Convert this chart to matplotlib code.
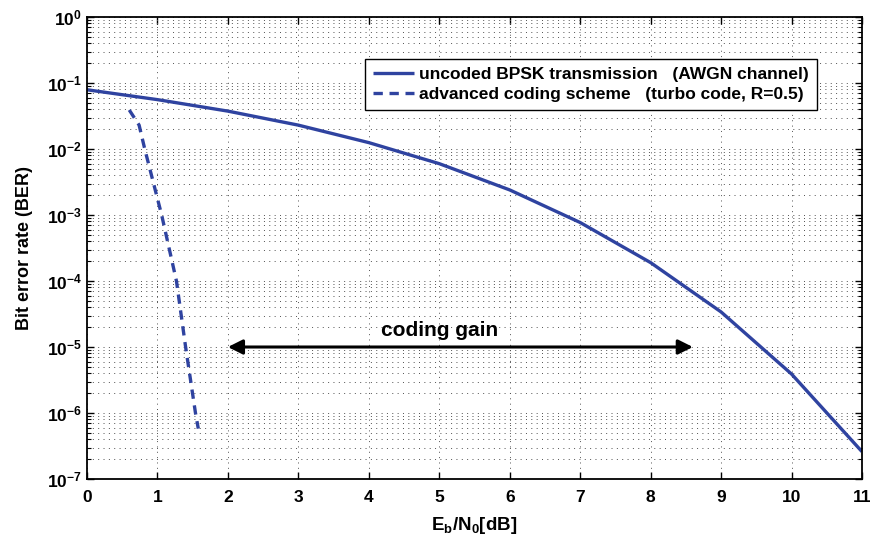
import numpy as np
import matplotlib
matplotlib.use("Agg")
import matplotlib.pyplot as plt
from matplotlib.ticker import LogLocator, NullFormatter, MultipleLocator

# values
ebn0_uncoded = [0, 1, 2, 3, 4, 5, 6, 7, 8, 9, 10, 11]
ber_uncoded  = [7.9e-2, 5.6e-2, 3.75e-2, 2.3e-2, 1.25e-2, 6.0e-3,
                2.4e-3, 7.7e-4, 1.9e-4, 3.4e-5, 3.9e-6, 2.6e-7]

ebn0_turbo = [0.60, 0.74, 0.82, 1.06, 1.27, 1.40, 1.54, 1.58]
ber_turbo  = [3.9e-2, 2.3e-2, 1.0e-2, 1.0e-3, 1.0e-4, 1.0e-5, 1.0e-6, 5.8e-7]

gain_from, gain_to, gain_ber = 2.0, 8.6, 1.0e-5
gain_text = "coding gain"

BLUE = "#2f43a0"
FONT = "Liberation Sans"

plt.rcParams["font.family"] = FONT
plt.rcParams["font.weight"] = "bold"
plt.rcParams["axes.labelweight"] = "bold"
plt.rcParams["mathtext.fontset"] = "custom"
plt.rcParams["mathtext.rm"] = FONT + ":bold"
plt.rcParams["mathtext.it"] = FONT + ":bold"
plt.rcParams["mathtext.bf"] = FONT + ":bold"

fig = plt.figure(figsize=(8.75, 5.47), dpi=100)
ax = fig.add_axes([0.0994, 0.1243, 0.8857, 0.8446])

ax.plot(ebn0_uncoded, ber_uncoded, color=BLUE, lw=2.4, solid_capstyle="butt",
        label="uncoded BPSK transmission   (AWGN channel)")
ax.plot(ebn0_turbo, ber_turbo, color=BLUE, lw=2.4, ls=(0, (2.8, 2.0)),
        label="advanced coding scheme   (turbo code, R=0.5)")

ax.set_yscale("log")
ax.set_xlim(0, 11)
ax.set_ylim(1e-7, 1)
ax.xaxis.set_major_locator(MultipleLocator(1))
ax.yaxis.set_major_locator(LogLocator(base=10, numticks=10))
ax.yaxis.set_minor_locator(LogLocator(base=10, subs=np.arange(2, 10), numticks=100))
ax.yaxis.set_minor_formatter(NullFormatter())

dots = dict(color="#505050", lw=0.7, ls=(0, (1, 4.5)))
ax.grid(True, which="major", axis="both", **dots)
ax.grid(True, which="minor", axis="y", **dots)

ax.tick_params(which="both", direction="in", top=True, right=True, labelsize=12.5)
ax.tick_params(which="major", length=5, width=1)
ax.tick_params(which="minor", length=3, width=0.8)
ax.tick_params(axis="x", pad=8)
for s in ax.spines.values():
    s.set_linewidth(1.3)

ax.set_xlabel(r"E$_\mathrm{b}$/N$_\mathrm{0}$[dB]", fontsize=13.5, labelpad=7)
ax.set_ylabel("Bit error rate (BER)", fontsize=13, labelpad=10)

ax.annotate("", xy=(gain_from, gain_ber), xytext=(gain_to, gain_ber),
            arrowprops=dict(arrowstyle="<|-|>", color="black", lw=2.2,
                            mutation_scale=22, shrinkA=0, shrinkB=0))
ax.text((gain_from + gain_to) / 2 - 0.3, gain_ber * 1.75, gain_text,
        ha="center", va="center", fontsize=15, fontweight="bold")

leg = ax.legend(loc="upper right", bbox_to_anchor=(0.942, 0.909), fontsize=12.5,
                fancybox=False, framealpha=1, edgecolor="black",
                handlelength=2.4, handletextpad=0.3, borderpad=0.45,
                labelspacing=0.3, borderaxespad=0)
leg.get_frame().set_linewidth(1.0)

fig.savefig("out.png", dpi=100)
